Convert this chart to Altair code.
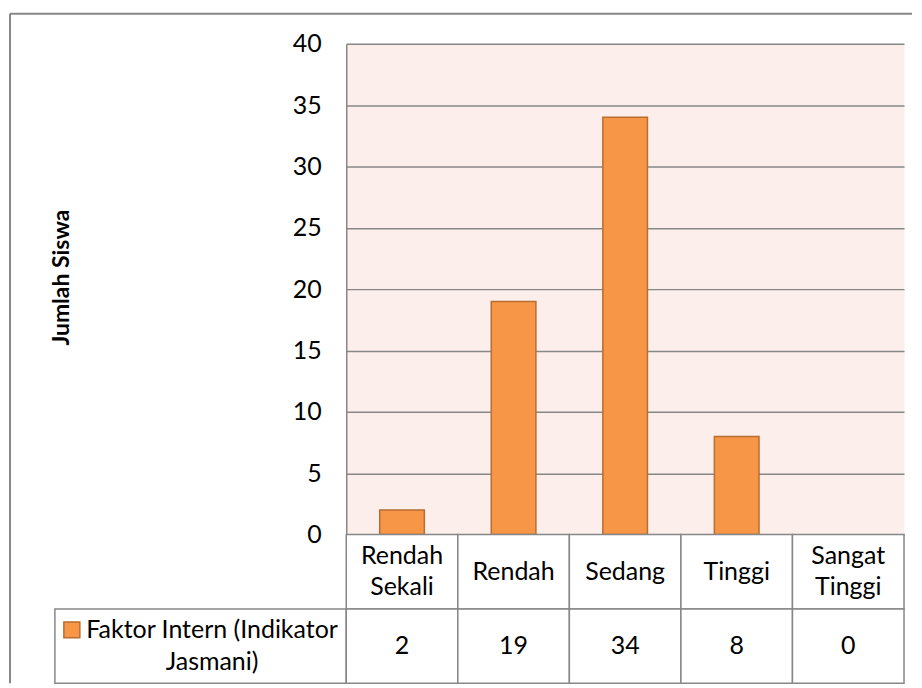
import altair as alt
import pandas as pd

# ---- data ----
categories = ["Rendah Sekali", "Rendah", "Sedang", "Tinggi", "Sangat Tinggi"]
category_labels = ["Rendah\nSekali", "Rendah", "Sedang", "Tinggi", "Sangat\nTinggi"]
values = [2, 19, 34, 8, 0]
series_label = "Faktor Intern (Indikator\nJasmani)"
y_ticks = [0, 5, 10, 15, 20, 25, 30, 35, 40]
y_title = "Jumlah Siswa"
row_keys = ["kat", "val"]

# ---- styles ----
FONT = "Lato"
FS = 25
TITLE_FS = 23
LINE_H = 31
GRID = "#878787"
ORANGE = "#F79646"
ORANGE_EDGE = "#B86E30"
PLOT_BG = "#FCEEEA"

bars_df = pd.DataFrame({"kategori": categories, "jumlah": values})
table_df = pd.DataFrame({
    "kategori": categories * 2,
    "baris": [row_keys[0]] * len(categories) + [row_keys[1]] * len(categories),
    "teks": category_labels + [str(v) for v in values],
})
legend_df = pd.DataFrame({"baris": [row_keys[1]], "teks": [series_label]})
frame_df = pd.DataFrame({"k": [0]})

# ---- bar chart ----
bars = (
    alt.Chart(bars_df)
    .transform_filter("datum.jumlah > 0")
    .mark_bar(color=ORANGE, stroke=ORANGE_EDGE, strokeWidth=1.5)
    .encode(
        x=alt.X("kategori:N",
                scale=alt.Scale(domain=categories, paddingInner=0.6, paddingOuter=0.3),
                axis=None),
        y=alt.Y("jumlah:Q",
                scale=alt.Scale(domain=[0, 40], nice=False),
                axis=alt.Axis(values=y_ticks, title=y_title,
                              titleFont=FONT, titleFontSize=TITLE_FS, titleFontWeight="bold",
                              titleColor="black", titleX=-285, titleY=234, titleAngle=270,
                              titleAlign="center", titleBaseline="middle",
                              labelFont=FONT, labelFontSize=FS, labelColor="black",
                              labelPadding=25, ticks=False, tickSize=0,
                              domainColor=GRID, domainWidth=1.5,
                              gridColor=GRID, gridWidth=1.5)),
    )
    .properties(width=559, height=492,
                view=alt.ViewBackground(fill=PLOT_BG, stroke="transparent"))
)

# ---- data table ----
x_tab = alt.X("kategori:N", scale=alt.Scale(domain=categories, paddingInner=0, paddingOuter=0), axis=None)
y_tab = alt.Y("baris:N", scale=alt.Scale(domain=row_keys, paddingInner=0, paddingOuter=0), axis=None)

cells = alt.Chart(table_df).mark_rect(fill="white", stroke=GRID, strokeWidth=1.5).encode(x=x_tab, y=y_tab)
text_single = alt.Chart(table_df).transform_filter("indexof(datum.teks, '\\n') < 0").mark_text(
    font=FONT, fontSize=FS, color="black", baseline="middle"
).encode(x=x_tab, y=y_tab, text="teks:N")
text_multi = alt.Chart(table_df).transform_filter("indexof(datum.teks, '\\n') >= 0").mark_text(
    font=FONT, fontSize=FS, lineBreak="\n", lineHeight=LINE_H, color="black", baseline="middle",
    dy=-LINE_H / 2
).encode(x=x_tab, y=y_tab, text="teks:N")
table = alt.layer(cells, text_single, text_multi).properties(width=559, height=149)

# ---- legend cell ----
y_leg = alt.Y("baris:N", scale=alt.Scale(domain=row_keys, paddingInner=0, paddingOuter=0), axis=None)
leg_box = alt.Chart(legend_df).mark_rect(fill="white", stroke=GRID, strokeWidth=1.5).encode(y=y_leg)
leg_sym = alt.Chart(legend_df).mark_square(
    size=256, fill=ORANGE, stroke=ORANGE_EDGE, strokeWidth=1.5, opacity=1
).encode(x=alt.value(17), y=alt.value(95.5))
leg_text = alt.Chart(legend_df).mark_text(
    font=FONT, fontSize=FS, lineBreak="\n", lineHeight=32, color="black", baseline="middle",
    dx=11.5, dy=-16
).encode(y=y_leg, text="teks:N")
legend_cell = alt.layer(leg_box, leg_sym, leg_text).properties(width=292, height=149)

# ---- outer frame (decoration) in the empty top-left cell ----
frame_top = alt.Chart(frame_df).mark_rule(color=GRID, strokeWidth=2).encode(
    x=alt.value(-45), x2=alt.value(859), y=alt.value(-30))
frame_left = alt.Chart(frame_df).mark_rule(color=GRID, strokeWidth=2).encode(
    x=alt.value(-45), y=alt.value(-30), y2=alt.value(641))
spacer = alt.layer(frame_top, frame_left).properties(width=292, height=492)

chart = (
    alt.concat(spacer, bars, legend_cell, table, columns=2, spacing=0, bounds="flush")
    .properties(padding={"left": 0, "top": 3, "right": 0, "bottom": 0}, background="white")
    .configure_view(stroke="transparent")
)

chart.save("out.html", embed_options={"renderer": "svg", "actions": False})
